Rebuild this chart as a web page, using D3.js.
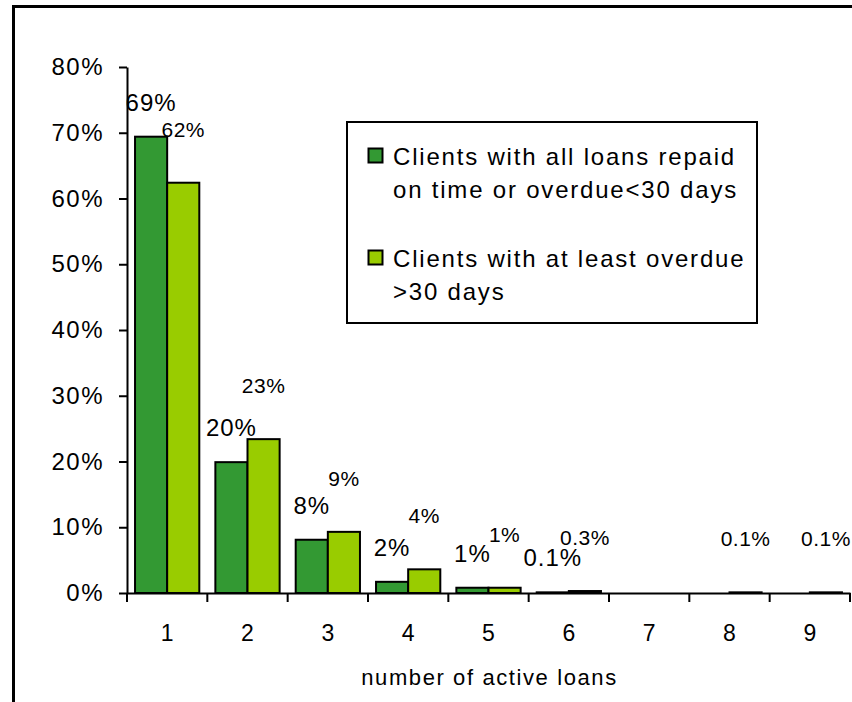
<!DOCTYPE html>
<html>
<head>
<meta charset="utf-8">
<script src="https://cdn.jsdelivr.net/npm/d3@7"></script>
<style>
  body { margin: 0; background: #fff; }
  text { font-family: "Liberation Sans", Arial, sans-serif; fill: #000; }
</style>
</head>
<body>
<script>
// share of clients by number of active loans
var categories = ["1", "2", "3", "4", "5", "6", "7", "8", "9"]
var allRepaid = [69.4, 19.9, 8.1, 1.7, 0.8, 0.1, 0, 0, 0]
var overdue30 = [62.4, 23.4, 9.3, 3.6, 0.8, 0.3, 0, 0.1, 0.1]
var seriesNames = ["Clients with all loans repaid|on time or overdue<30 days",
                   "Clients with at least overdue|>30 days"]
var yTicks = [0, 10, 20, 30, 40, 50, 60, 70, 80]
var xTitle = "number of active loans"

var w = 852
var h = 702
var margins = {left: 127, right: 2, upper: 67, lower: 109}
var colors = ["#339933", "#99cc00"]

var svg = d3.select("body")
            .append("svg")
            .attr("width", w)
            .attr("height", h)

// outer frame, runs off the right and bottom edges
svg.append("rect")
   .attr("x", 13.5)
   .attr("y", 6.5)
   .attr("width", w + 20)
   .attr("height", h + 20)
   .attr("fill", "none")
   .attr("stroke", "#000")
   .attr("stroke-width", 3)

var xScale = d3.scaleBand()
               .domain(categories)
               .range([margins.left, w - margins.right])
var xSub = d3.scaleBand()
             .domain([0, 1])
             .range([0, xScale.bandwidth()])
             .paddingOuter(0.25)
var yScale = d3.scaleLinear()
               .domain([0, 80])
               .range([h - margins.lower, margins.upper])

function fmt(v) {
  if (v === 0) return ""
  if (Math.round(v) >= 1) return Math.round(v) + "%"
  return v.toFixed(1) + "%"
}

// bars
var series = [allRepaid, overdue30]
series.forEach(function(vals, s) {
  svg.append("g")
     .selectAll("rect")
     .data(vals)
     .enter()
     .append("rect")
     .attr("x", function(d, i) { return xScale(categories[i]) + xSub(s) })
     .attr("y", function(d) { return yScale(d) })
     .attr("width", xSub.bandwidth())
     .attr("height", function(d) { return yScale(0) - yScale(d) })
     .attr("fill", colors[s])
     .attr("stroke", d => d > 0 ? "#000" : "none")
     .attr("stroke-width", 2)
})

// y axis
var yAxis = svg.append("g")
   .attr("transform", "translate(" + margins.left + ",0)")
   .call(d3.axisLeft(yScale)
           .tickValues(yTicks)
           .tickFormat(d => d + "%")
           .tickSize(8)
           .tickSizeOuter(0)
           .tickPadding(15))
yAxis.selectAll("text")
     .style("font-size", "24px")
     .style("letter-spacing", "1.5px")
     .style("font-family", "Liberation Sans, Arial, sans-serif")
yAxis.selectAll("line, path").attr("stroke", "#000").attr("stroke-width", 2)

// x axis, ticks on the band edges
var xAxis = svg.append("g")
   .attr("transform", "translate(0," + yScale(0) + ")")
   .call(d3.axisBottom(xScale).tickSize(0).tickSizeOuter(0).tickPadding(32))
xAxis.select("path").attr("stroke", "#000").attr("stroke-width", 2)
xAxis.selectAll("text")
     .style("font-size", "23px")
     .style("font-family", "Liberation Sans, Arial, sans-serif")
xAxis.selectAll(".edge")
     .data(categories.map(c => xScale(c)).concat([xScale.range()[1]]))
     .enter()
     .append("line")
     .attr("class", "edge")
     .attr("x1", d => d)
     .attr("x2", d => d)
     .attr("y1", 0)
     .attr("y2", 9)
     .attr("stroke", "#000")
     .attr("stroke-width", 2)

// value labels
var labelSize = ["24px", "21px"]
var labelSpacing = ["1px", "0.5px"]
var labelLift = [26, 46]
series.forEach(function(vals, s) {
  svg.append("g")
     .selectAll("text")
     .data(vals)
     .enter()
     .append("text")
     .attr("x", function(d, i) {
        return xScale(categories[i]) + xSub(s) + xSub.bandwidth() / 2
     })
     .attr("y", function(d) { return yScale(d) - labelLift[s] })
     .attr("text-anchor", "middle")
     .style("font-size", labelSize[s])
     .style("letter-spacing", labelSpacing[s])
     .text(d => fmt(d))
})

// x axis title
svg.append("text")
   .attr("x", (xScale.range()[0] + xScale.range()[1]) / 2 + 1)
   .attr("y", 685)
   .attr("text-anchor", "middle")
   .style("font-size", "22px")
   .style("letter-spacing", "1.6px")
   .text(xTitle)

// legend
var legend = svg.append("g")
legend.append("rect")
      .attr("x", 347)
      .attr("y", 122)
      .attr("width", 410)
      .attr("height", 201)
      .attr("fill", "#fff")
      .attr("stroke", "#000")
      .attr("stroke-width", 2)

seriesNames.forEach(function(name, s) {
  var top = 148 + s * 102
  legend.append("rect")
        .attr("x", 368.5)
        .attr("y", top + 0.5)
        .attr("width", 14)
        .attr("height", 14)
        .attr("fill", colors[s])
        .attr("stroke", "#000")
        .attr("stroke-width", 2)
  name.split("|").forEach(function(line, j) {
    legend.append("text")
          .attr("x", 393)
          .attr("y", top + 17 + j * 33)
          .style("font-size", "24px")
          .style("letter-spacing", "1.8px")
          .text(line)
  })
})
</script>
</body>
</html>
